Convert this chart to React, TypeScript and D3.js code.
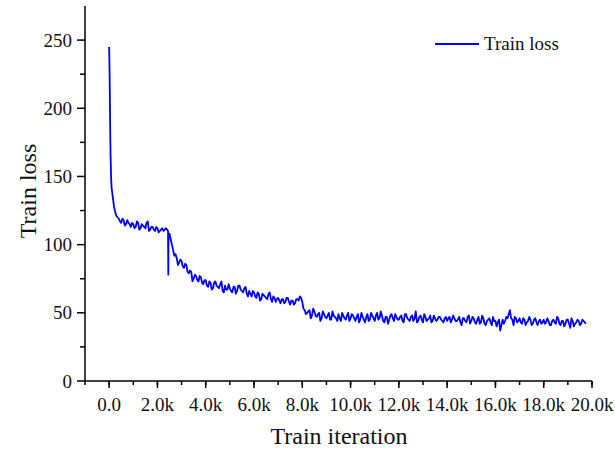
import React from "react";
import * as d3 from "d3";

const earlyIters = [0, 20, 40, 60, 80, 100, 150, 200, 250, 300, 400, 500, 600, 700, 800, 900, 1000, 1100, 1200, 1300, 1400, 1500, 1600, 1700, 1800, 1900, 2000, 2100, 2200, 2300, 2400, 2440, 2450, 2460];
const earlyLoss = [245, 225, 190, 165, 150, 142, 135, 128, 124, 121, 119, 116, 118, 115, 116, 113, 115, 113, 116, 112, 114, 112, 117, 111, 113, 110, 112, 110, 112, 111, 111, 110, 78, 106];

const plateauMidIters = d3.range(450, 2400, 100);
const plateauMidLoss = [117, 119, 114, 118, 115, 116, 112, 117, 111, 115, 113, 116, 110, 113, 111, 113, 109, 111, 110, 112];

const mainIters = d3.range(2500, 19750, 100);
const mainLoss = [
  108, 100, 92, 90, 87,
  88, 83, 85, 79, 80, 75, 77, 73, 76, 71,
  74, 69, 72, 68, 73, 69, 71, 66, 70, 67,
  68, 65, 69, 66, 70, 66, 68, 64, 66, 62,
  65, 61, 64, 60, 63, 61, 64, 60, 62, 58,
  61, 57, 60, 58, 61, 56, 59, 57, 60, 62,
  58, 52, 50, 52, 48, 51, 47, 50, 46, 49,
  46, 50, 45, 48, 46, 49, 44, 48, 45, 50,
  46, 48, 44, 49, 45, 47, 43, 49, 45, 48,
  44, 50, 46, 48, 43, 47, 45, 49, 44, 47,
  45, 48, 43, 49, 45, 47, 44, 51, 44, 48,
  43, 47, 45, 48, 44, 46, 45, 47, 44, 46,
  44, 47, 45, 46, 44, 47, 41, 46, 43, 48,
  44, 46, 42, 47, 43, 46, 41, 45, 43, 47,
  44, 43, 37, 45, 44, 46, 52, 45, 47, 43,
  46, 42, 45, 43, 47, 41, 45, 43, 44, 42,
  45, 43, 44, 41, 45, 42, 46, 41, 44, 42,
  45, 39, 44, 42, 45, 41, 45, 43,
];

const midIters = d3.range(2550, 19800, 100);
const midLoss = [
  104, 96, 93, 85, 89,
  84, 86, 80, 81, 73, 78, 74, 77, 72, 74,
  70, 73, 67, 72, 70, 68, 73, 65, 67, 71,
  66, 69, 64, 70, 67, 65, 69, 62, 64, 66,
  62, 65, 59, 64, 62, 60, 65, 58, 61, 60,
  59, 60, 57, 61, 58, 59, 56, 60, 59, 61,
  53, 49, 51, 46, 53, 48, 49, 44, 51, 47,
  48, 45, 51, 47, 44, 46, 50, 46, 48, 44,
  49, 46, 47, 43, 50, 45, 47, 44, 50, 46,
  48, 45, 51, 44, 47, 42, 48, 46, 49, 45,
  47, 44, 49, 46, 44, 48, 46, 43, 47, 45,
  49, 44, 46, 43, 48, 44, 47, 45, 43, 47,
  46, 43, 48, 44, 45, 43, 46, 44, 47, 42,
  47, 43, 45, 42, 48, 42, 44, 46, 41, 44,
  40, 45, 41, 42, 47, 49, 46, 41, 46, 44,
  43, 46, 41, 44, 45, 42, 46, 41, 45, 43,
  42, 46, 41, 44, 43, 47, 42, 44, 40, 45,
  42, 46, 40, 43, 44, 42, 44, 42,
];

const xMajorTicks = d3.range(0, 20001, 2000);
const xMinorTicks = d3.range(-1000, 20001, 1000);
const yMajorTicks = [0, 50, 100, 150, 200, 250];
const yMinorTicks = [25, 75, 125, 175, 225];

const seriesName = "Train loss";
const xTitle = "Train iteration";
const yTitle = "Train loss";

function zip(a: number[], b: number[]): [number, number][] {
  const n = Math.min(a.length, b.length);
  return d3.range(n).map((i) => [a[i], b[i]] as [number, number]);
}

export default function App() {
  const W = 615, H = 449;
  const x = d3.scaleLinear().domain([-1000, 20000]).range([85, 592]);
  const y = d3.scaleLinear().domain([0, 275]).range([381, 6]);

  const data = [
    ...zip(earlyIters, earlyLoss),
    ...zip(plateauMidIters, plateauMidLoss),
    ...zip(mainIters, mainLoss),
    ...zip(midIters, midLoss),
  ].sort((a, b) => a[0] - b[0]);

  const line = d3
    .line<[number, number]>()
    .x((d) => x(d[0]))
    .y((d) => y(d[1]));

  const fmt = (v: number) => (v === 0 ? "0.0" : (v / 1000).toFixed(1) + "k");
  const font = "'Liberation Serif', 'Times New Roman', serif";

  return (
    <svg
      width={W}
      height={H}
      style={{ position: "absolute", left: 0, top: 0, background: "#fff" }}
      fontFamily={font}
    >
      <path d={line(data) || ""} fill="none" stroke="#0000ff" strokeWidth={1.8} strokeLinejoin="round" />
      <line x1={85} x2={85} y1={6} y2={381} stroke="#000" strokeWidth={1.5} />
      <line x1={85} x2={592} y1={381} y2={381} stroke="#000" strokeWidth={1.5} />
      {yMajorTicks.map((t) => (
        <g key={"ym" + t}>
          <line x1={77} x2={85} y1={y(t)} y2={y(t)} stroke="#000" strokeWidth={1.5} />
          <text x={72} y={y(t)} dy="0.35em" textAnchor="end" fontSize={19} fill="#111">
            {t}
          </text>
        </g>
      ))}
      {yMinorTicks.map((t) => (
        <line key={"yn" + t} x1={80} x2={85} y1={y(t)} y2={y(t)} stroke="#000" strokeWidth={1.5} />
      ))}
      {xMinorTicks.map((t) => (
        <line key={"xn" + t} x1={x(t)} x2={x(t)} y1={381} y2={385} stroke="#000" strokeWidth={1.5} />
      ))}
      {xMajorTicks.map((t) => (
        <g key={"xm" + t}>
          <line x1={x(t)} x2={x(t)} y1={381} y2={388} stroke="#000" strokeWidth={1.5} />
          <text x={x(t)} y={411} textAnchor="middle" fontSize={19} fill="#111">
            {fmt(t)}
          </text>
        </g>
      ))}
      <text x={339} y={444} textAnchor="middle" fontSize={24} fill="#111">
        {xTitle}
      </text>
      <text transform={`translate(36,191) rotate(-90)`} textAnchor="middle" fontSize={24} fill="#111">
        {yTitle}
      </text>
      <line x1={435} x2={479} y1={44} y2={44} stroke="#0000ff" strokeWidth={1.8} />
      <text x={484} y={50} fontSize={19} fill="#111">
        {seriesName}
      </text>
    </svg>
  );
}
